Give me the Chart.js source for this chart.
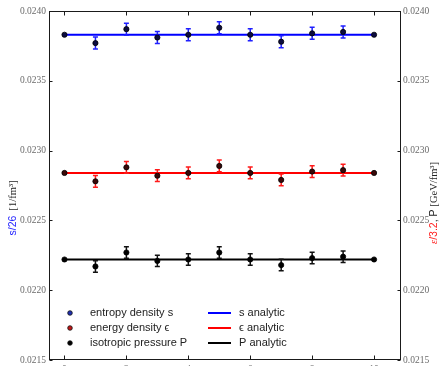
<!DOCTYPE html>
<html>
<head>
<meta charset="utf-8">
<script src="https://cdn.jsdelivr.net/npm/chart.js@4/dist/chart.umd.min.js"></script>
<style>
html, body { margin: 0; padding: 0; background: #fff; overflow: hidden; }
</style>
</head>
<body>
<canvas id="chart" width="441" height="380"></canvas>
<script>
// x positions of the measurements
const xValues = [0, 1, 2, 3, 4, 5, 6, 7, 8, 9, 10];

// entropy density s/26
const sValues = [0.02383, 0.02377, 0.02387, 0.02381, 0.02383, 0.02388, 0.02383, 0.02378, 0.02384, 0.02385, 0.02383];
const sErrors = [0, 0.000043, 0.000043, 0.000043, 0.000043, 0.000043, 0.000043, 0.000043, 0.000043, 0.000043, 0];
const sAnalytic = 0.02383;

// energy density e/3.2
const eValues = [0.02284, 0.02278, 0.02288, 0.02282, 0.02284, 0.02289, 0.02284, 0.02279, 0.02285, 0.02286, 0.02284];
const eErrors = [0, 0.000042, 0.000042, 0.000042, 0.000042, 0.000042, 0.000042, 0.000042, 0.000042, 0.000042, 0];
const eAnalytic = 0.02284;

// isotropic pressure P
const pValues = [0.02222, 0.02217, 0.02227, 0.02221, 0.02222, 0.02227, 0.02222, 0.02218, 0.02223, 0.02224, 0.02222];
const pErrors = [0, 0.000041, 0.000041, 0.000041, 0.000041, 0.000041, 0.000041, 0.000041, 0.000041, 0.000041, 0];
const pAnalytic = 0.02222;

const xTicks = [0, 2, 4, 6, 8, 10];
const yTicks = [0.0215, 0.0220, 0.0225, 0.0230, 0.0235, 0.0240];

const tickFont = { family: 'Liberation Serif', size: 9.5 };
const tickColor = '#6a6a6a';

function points(vals) {
    return xValues.map((x, i) => ({ x: x, y: vals[i] }));
}
function flat(v) {
    return [{ x: xValues[0], y: v }, { x: xValues[xValues.length - 1], y: v }];
}

// error bars drawn right before each point dataset
const errorBars = {
    id: 'errorBars',
    beforeDatasetDraw(chart, args) {
        const ds = chart.data.datasets[args.index];
        if (!ds.errors) return;
        const { ctx, scales } = chart;
        ctx.save();
        ctx.strokeStyle = ds.errorColor;
        ctx.lineWidth = 1.5;
        ds.data.forEach((p, i) => {
            const err = ds.errors[i];
            if (!err) return;
            const px = scales.x.getPixelForValue(p.x);
            const y1 = scales.y.getPixelForValue(p.y - err);
            const y2 = scales.y.getPixelForValue(p.y + err);
            ctx.beginPath();
            ctx.moveTo(px, y1); ctx.lineTo(px, y2);
            ctx.moveTo(px - 2.5, y1); ctx.lineTo(px + 2.5, y1);
            ctx.moveTo(px - 2.5, y2); ctx.lineTo(px + 2.5, y2);
            ctx.stroke();
        });
        ctx.restore();
    }
};

function drawRotated(ctx, cx, cy, parts) {
    ctx.save();
    ctx.translate(cx, cy);
    ctx.rotate(-Math.PI / 2);
    let total = 0;
    parts.forEach(p => { ctx.font = p.font; p.w = ctx.measureText(p.text).width; total += p.w; });
    let x = -total / 2;
    ctx.textBaseline = 'middle';
    ctx.textAlign = 'left';
    parts.forEach(p => {
        ctx.font = p.font;
        ctx.fillStyle = p.color;
        ctx.fillText(p.text, x, 0);
        x += p.w;
    });
    ctx.restore();
}

// box frame, inward ticks, axis titles and legend
const frame = {
    id: 'frame',
    afterDraw(chart) {
        const { ctx, chartArea: a, scales } = chart;
        const L = Math.round(a.left) + 0.5, R = Math.round(a.right) - 0.5;
        const T = Math.round(a.top) + 0.5, B = Math.round(a.bottom) - 0.5;
        ctx.save();
        ctx.strokeStyle = '#1a1a1a';
        ctx.lineWidth = 1;
        ctx.strokeRect(L, T, R - L, B - T);
        ctx.beginPath();
        xTicks.forEach(v => {
            const px = Math.round(scales.x.getPixelForValue(v)) + 0.5;
            ctx.moveTo(px, B); ctx.lineTo(px, B - 4);
            ctx.moveTo(px, T); ctx.lineTo(px, T + 4);
        });
        yTicks.forEach(v => {
            const py = Math.round(scales.y.getPixelForValue(v)) + 0.5;
            ctx.moveTo(L, py); ctx.lineTo(L + 3, py);
            ctx.moveTo(R, py); ctx.lineTo(R - 3, py);
        });
        ctx.stroke();

        drawRotated(ctx, 13, 208, [
            { text: 's/26', font: '10.5px "Liberation Sans"', color: '#1f1fff' },
            { text: '  [1/fm³]', font: '10.5px "Liberation Serif"', color: '#222' }
        ]);
        drawRotated(ctx, 434, 203, [
            { text: 'ε', font: 'italic 10.5px "Liberation Serif"', color: '#ff2020' },
            { text: '/3.2', font: '10.5px "Liberation Sans"', color: '#ff2020' },
            { text: ', P ', font: '10.5px "Liberation Sans"', color: '#222' },
            { text: '[GeV/fm³]', font: '10.5px "Liberation Serif"', color: '#222' }
        ]);

        // legend
        const rows = [313, 328, 343];
        const pointSets = chart.data.datasets.filter(d => d.errors);
        const lineSets = chart.data.datasets.filter(d => !d.errors);
        ctx.font = '11px "Liberation Sans"';
        ctx.textBaseline = 'middle';
        ctx.textAlign = 'left';
        pointSets.forEach((d, i) => {
            ctx.beginPath();
            ctx.arc(70, rows[i], 2.3, 0, Math.PI * 2);
            ctx.fillStyle = d.legendColor;
            ctx.fill();
            ctx.lineWidth = 0.8;
            ctx.strokeStyle = '#111';
            ctx.stroke();
            ctx.fillStyle = '#222';
            ctx.fillText(d.label, 90, rows[i]);
        });
        lineSets.forEach((d, i) => {
            ctx.beginPath();
            ctx.moveTo(208, rows[i]); ctx.lineTo(231, rows[i]);
            ctx.strokeStyle = d.borderColor;
            ctx.lineWidth = 2;
            ctx.stroke();
            ctx.fillStyle = '#222';
            ctx.fillText(d.label, 239, rows[i]);
        });
        ctx.restore();
    }
};

function pointSet(label, vals, errs, errColor, fill, legendColor) {
    return {
        label: label,
        data: points(vals),
        errors: errs,
        errorColor: errColor,
        legendColor: legendColor,
        showLine: false,
        pointRadius: 2.6,
        pointBackgroundColor: fill,
        pointBorderColor: '#000',
        pointBorderWidth: 0.8,
        borderColor: fill
    };
}
function lineSet(label, v, color) {
    return {
        label: label,
        data: flat(v),
        borderColor: color,
        borderWidth: 2,
        borderCapStyle: 'round',
        pointRadius: 0
    };
}

new Chart(document.getElementById('chart').getContext('2d'), {
    type: 'line',
    data: {
        datasets: [
            pointSet('entropy density s', sValues, sErrors, '#1f1fff', '#0c0c40', '#1f2fb0'),
            pointSet('energy density ϵ', eValues, eErrors, '#ff1a1a', '#3a0808', '#c01818'),
            pointSet('isotropic pressure P', pValues, pErrors, '#111', '#000', '#000'),
            lineSet('s analytic', sAnalytic, '#0000ff'),
            lineSet('ϵ analytic', eAnalytic, '#ff0000'),
            lineSet('P analytic', pAnalytic, '#000000')
        ]
    },
    options: {
        responsive: false,
        animation: false,
        layout: { padding: { top: 11, right: 0, left: 0, bottom: 0 } },
        plugins: { legend: { display: false }, tooltip: { enabled: false } },
        scales: {
            x: {
                type: 'linear',
                min: -0.5,
                max: 10.87,
                afterBuildTicks: s => { s.ticks = xTicks.map(v => ({ value: v })); },
                afterFit: s => { s.height = 20; },
                grid: { display: false, drawTicks: false },
                border: { display: false },
                ticks: { font: tickFont, color: tickColor, padding: 4, maxRotation: 0 }
            },
            y: {
                position: 'left',
                min: 0.0215,
                max: 0.0240,
                afterBuildTicks: s => { s.ticks = yTicks.map(v => ({ value: v })); },
                afterFit: s => { s.width = 49; },
                grid: { display: false, drawTicks: false },
                border: { display: false },
                ticks: { font: tickFont, color: tickColor, padding: 3, callback: v => v.toFixed(4) }
            },
            y2: {
                position: 'right',
                min: 0.0215,
                max: 0.0240,
                afterBuildTicks: s => { s.ticks = yTicks.map(v => ({ value: v })); },
                afterFit: s => { s.width = 40; },
                grid: { display: false, drawTicks: false },
                border: { display: false },
                ticks: { font: tickFont, color: tickColor, padding: 2, callback: v => v.toFixed(4) }
            }
        }
    },
    plugins: [errorBars, frame]
});
</script>
</body>
</html>
